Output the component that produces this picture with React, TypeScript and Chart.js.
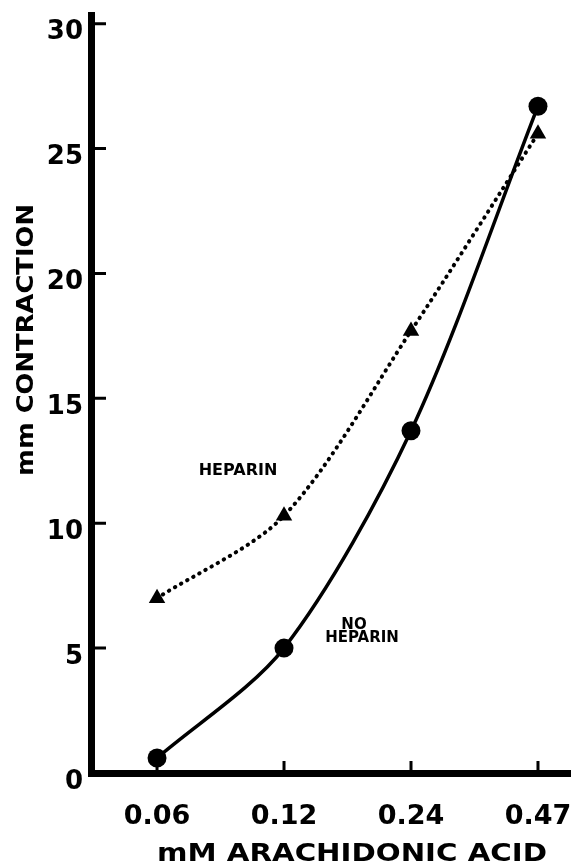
import React, { useEffect, useRef } from 'react';
import { Chart, registerables } from 'chart.js';

Chart.register(...registerables);

// Arachidonic acid doses (mM), shown as evenly spaced positions on the x axis
const doses = ['0.06', '0.12', '0.24', '0.47'];
// Contraction (mm) without heparin
const noHeparin = [0.6, 5.0, 13.7, 26.7];
// Contraction (mm) with heparin
const heparin = [7.0, 10.3, 17.7, 25.6];
// Y axis tick values
const yTicks = [0, 5, 10, 15, 20, 25, 30];

const xTitle = 'mM ARACHIDONIC ACID';
const yTitle = 'mm CONTRACTION';

const FONT = "'DejaVu Sans', 'Liberation Sans', sans-serif";
const INK = '#000';

const toPoints = (vals: number[]) => vals.map((v, i) => ({ x: i, y: v }));

// Let the plot area run to the canvas edges instead of reserving room for overhanging labels
const noLabelPadding = (scale: any) => {
  scale.paddingLeft = 0;
  scale.paddingRight = 0;
  scale.paddingTop = 0;
  scale.paddingBottom = 0;
};

// Inward-pointing tick marks, drawn under the data markers
const tickMarks = {
  id: 'tickMarks',
  beforeDatasetsDraw(chart: any) {
    const { ctx, chartArea, scales } = chart;
    const { x, y } = scales;
    ctx.save();
    ctx.strokeStyle = INK;
    ctx.lineWidth = 3;
    ctx.lineCap = 'butt';
    ctx.beginPath();
    yTicks.filter((v) => v > 0).forEach((v) => {
      const py = y.getPixelForValue(v);
      ctx.moveTo(chartArea.left, py);
      ctx.lineTo(chartArea.left + 15, py);
    });
    doses.forEach((_, i) => {
      const px = x.getPixelForValue(i);
      ctx.moveTo(px, chartArea.bottom);
      ctx.lineTo(px, chartArea.bottom - 12);
    });
    ctx.stroke();
    ctx.restore();
  },
};

// Axis titles and curve labels
const textLabels = {
  id: 'textLabels',
  afterDraw(chart: any) {
    const { ctx } = chart;
    ctx.save();
    ctx.fillStyle = INK;
    ctx.textAlign = 'center';
    ctx.textBaseline = 'middle';

    ctx.save();
    ctx.font = `bold 25px ${FONT}`;
    ctx.translate(352, 854);
    ctx.scale(1.17, 1);
    ctx.fillText(xTitle, 0, 0);
    ctx.restore();

    ctx.save();
    ctx.font = `bold 23px ${FONT}`;
    ctx.translate(27, 340);
    ctx.rotate(-Math.PI / 2);
    ctx.scale(1.12, 1);
    ctx.fillText(yTitle, 0, 0);
    ctx.restore();

    ctx.font = `bold 16px ${FONT}`;
    ctx.fillText('HEPARIN', 238, 471);
    ctx.font = `bold 15px ${FONT}`;
    ctx.fillText('NO', 354, 625);
    ctx.fillText('HEPARIN', 362, 638);

    ctx.restore();
  },
};

export default function App() {
  const canvasRef = useRef<HTMLCanvasElement | null>(null);

  useEffect(() => {
    const canvas = canvasRef.current;
    if (!canvas) return;

    const chart = new Chart(canvas, {
      type: 'line',
      data: {
        datasets: [
          {
            label: 'NO HEPARIN',
            data: toPoints(noHeparin),
            borderColor: INK,
            backgroundColor: INK,
            borderWidth: 3.5,
            tension: 0.3,
            pointStyle: 'circle',
            pointRadius: 9.5,
            pointBorderWidth: 0,
            pointBackgroundColor: INK,
          },
          {
            label: 'HEPARIN',
            data: toPoints(heparin),
            borderColor: INK,
            backgroundColor: INK,
            borderWidth: 4,
            borderDash: [0.5, 6.5],
            borderCapStyle: 'round',
            tension: 0.3,
            pointStyle: 'triangle',
            pointRadius: 9.5,
            pointBorderWidth: 0,
            pointBackgroundColor: INK,
          },
        ],
      },
      options: {
        responsive: false,
        animation: false,
        devicePixelRatio: 1,
        clip: false,
        layout: { autoPadding: false, padding: { top: 15, right: 0, left: 0, bottom: 0 } },
        plugins: {
          legend: { display: false },
          tooltip: { enabled: false },
        },
        scales: {
          x: {
            type: 'linear',
            min: -0.52,
            max: 3.26,
            afterBuildTicks: (scale: any) => {
              scale.ticks = doses.map((_, i) => ({ value: i }));
            },
            afterFit: (scale: any) => {
              scale.height = 93;
              noLabelPadding(scale);
            },
            grid: { display: false, drawTicks: false },
            border: { display: true, color: INK, width: 7 },
            ticks: {
              autoSkip: false,
              maxRotation: 0,
              padding: 28,
              color: INK,
              font: { family: FONT, size: 27, weight: 'bold' },
              callback: (_v: any, i: number) => doses[i] ?? '',
            },
          },
          y: {
            type: 'linear',
            min: 0,
            max: 30.35,
            afterBuildTicks: (scale: any) => {
              scale.ticks = yTicks.map((v) => ({ value: v }));
            },
            afterFit: (scale: any) => {
              scale.width = 91;
              noLabelPadding(scale);
            },
            grid: { display: false, drawTicks: false },
            border: { display: true, color: INK, width: 7 },
            ticks: {
              padding: 8,
              labelOffset: 9,
              color: INK,
              font: { family: FONT, size: 26, weight: 'bold' },
              callback: (v: any) => String(v),
            },
          },
        },
      },
      plugins: [tickMarks, textLabels],
    } as any);

    return () => chart.destroy();
  }, []);

  return (
    <div style={{ position: 'absolute', left: 0, top: 0, width: 571, height: 866, background: '#fff' }}>
      <canvas ref={canvasRef} width={571} height={866} style={{ display: 'block' }} />
    </div>
  );
}
